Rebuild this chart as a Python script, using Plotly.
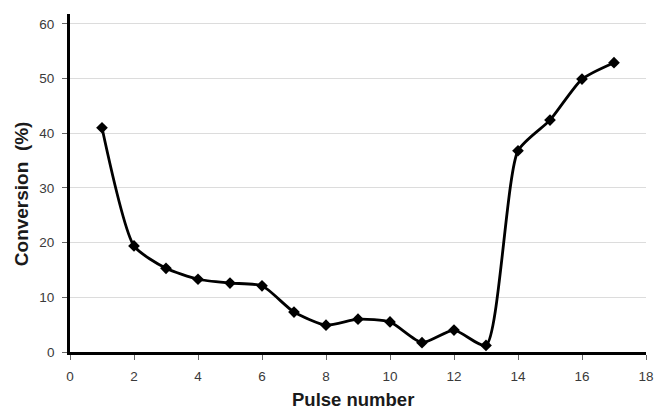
import plotly.graph_objects as go

pulse = list(range(1, 18))
conversion = [41.0, 19.4, 15.3, 13.3, 12.6, 12.1, 7.3, 4.9, 6.0, 5.5, 1.7, 4.0, 1.2, 36.8, 42.4, 49.9, 52.9]
x_ticks = [0, 2, 4, 6, 8, 10, 12, 14, 16, 18]
y_ticks = [0, 10, 20, 30, 40, 50, 60]
x_title = "Pulse number"
y_title = "Conversion  (%)"

fig = go.Figure()
fig.add_trace(go.Scatter(
    x=pulse, y=conversion, mode="lines+markers",
    line=dict(color="black", width=2.8, shape="spline", smoothing=0.6),
    marker=dict(symbol="diamond", size=9, color="black"),
    cliponaxis=True, showlegend=False))

fig.update_layout(
    width=655, height=412,
    margin=dict(l=70, r=9, t=14, b=60, autoexpand=False),
    plot_bgcolor="white", paper_bgcolor="white",
    font=dict(family="Liberation Sans, Arial, sans-serif", color="#3a3a3a", size=13.5),
)
fig.update_xaxes(
    range=[0, 18], tickvals=x_ticks, showgrid=False, zeroline=False,
    showline=True, linecolor="black", linewidth=2.8, automargin=False,
    ticks="outside", ticklen=5, tickcolor="#666666", tickwidth=1,
    ticklabelstandoff=5,
)
fig.update_yaxes(
    range=[0, 61.8], tickvals=y_ticks, showgrid=True, gridcolor="#dcdcdc", gridwidth=1,
    zeroline=False, showline=True, linecolor="black", linewidth=2.8, automargin=False,
    ticks="outside", ticklen=5, tickcolor="#666666", tickwidth=1,
    ticklabelstandoff=5,
)
fig.add_annotation(text="<b>" + x_title + "</b>", xref="paper", yref="paper",
                   x=0.491, y=-0.14, xanchor="center", yanchor="middle", showarrow=False,
                   font=dict(size=18.5, color="#1a1a1a"))
fig.add_annotation(text="<b>" + y_title + "</b>", xref="paper", yref="paper",
                   x=-0.085, y=0.467, xanchor="center", yanchor="middle", showarrow=False,
                   textangle=-90, font=dict(size=19, color="#1a1a1a"))
fig.write_html("out.html")
